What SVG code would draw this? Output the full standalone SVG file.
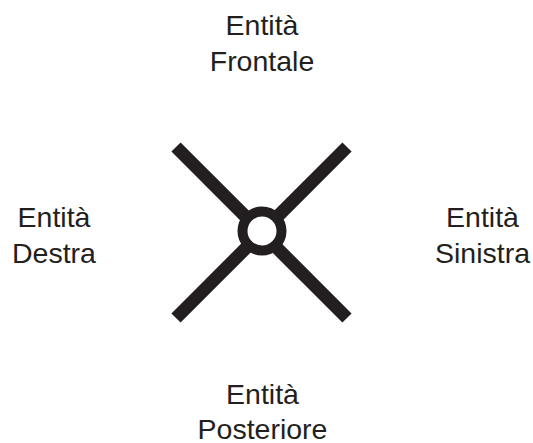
<svg xmlns="http://www.w3.org/2000/svg" width="533" height="443" viewBox="0 0 533 443">
<style>
.t{font-family:"Liberation Sans",Arial,sans-serif;font-size:28.5px;fill:#231f20;text-anchor:middle}
.ln{stroke:#231f20;stroke-width:13;fill:none}
</style>
<rect width="533" height="443" fill="#fff"/>
<g id="connectors">
<line class="ln" x1="176" y1="147" x2="347" y2="318"/>
<line class="ln" x1="347" y1="147" x2="176" y2="318"/>
</g>
<g id="centro">
<circle cx="262" cy="231" r="19.5" fill="#fff" stroke="#231f20" stroke-width="10"/>
</g>
<g id="frontale"><text class="t" x="262" y="35">Entità</text><text class="t" x="262" y="71">Frontale</text></g>
<g id="destra"><text class="t" x="54" y="227">Entità</text><text class="t" x="54" y="263">Destra</text></g>
<g id="sinistra"><text class="t" x="482.5" y="227">Entità</text><text class="t" x="482.5" y="263">Sinistra</text></g>
<g id="posteriore"><text class="t" x="262.5" y="404">Entità</text><text class="t" x="262.5" y="439">Posteriore</text></g>
</svg>
